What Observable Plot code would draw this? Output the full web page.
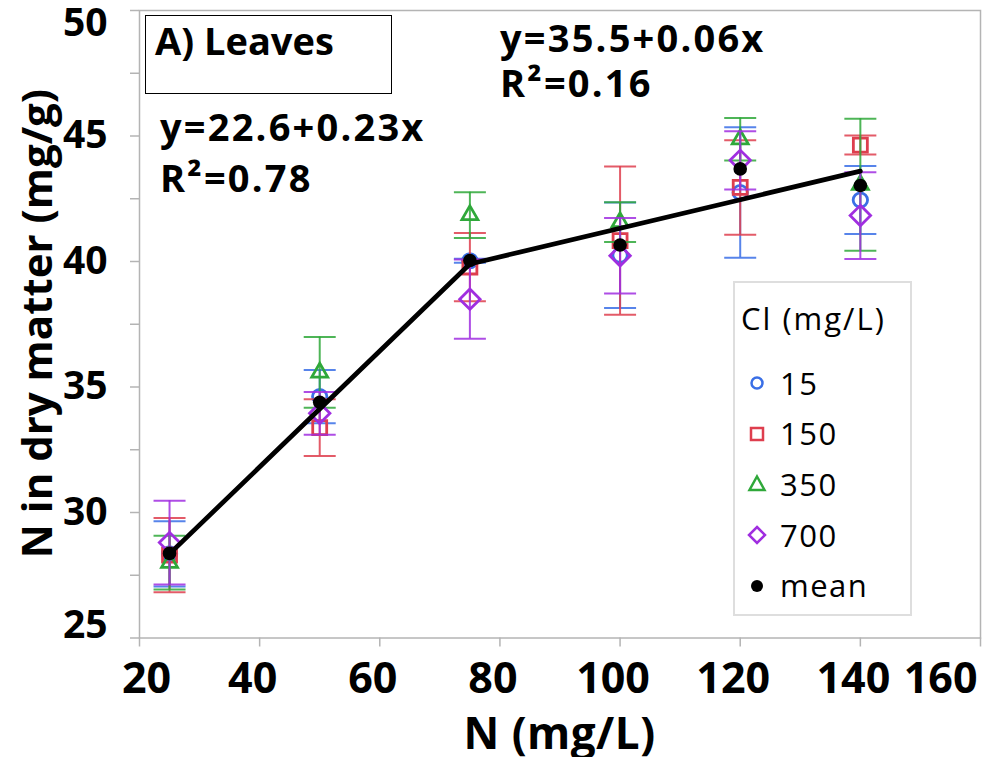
<!DOCTYPE html>
<html><head><meta charset="utf-8">
<script src="https://cdn.jsdelivr.net/npm/d3@7"></script>
<script src="https://cdn.jsdelivr.net/npm/@observablehq/plot@0.6"></script>
<style>
html,body{margin:0;padding:0;background:#fff;}
#wrap{position:relative;width:987px;height:757px;font-family:"Open Sans",sans-serif;color:#000;overflow:hidden;}
#wrap svg{display:block;}
.ov{position:absolute;line-height:1;white-space:nowrap;}
.eq{font-size:38px;font-weight:bold;letter-spacing:2.2px;}
.vt{writing-mode:vertical-rl;transform:rotate(180deg);}
.lg-row{position:absolute;left:0;display:flex;align-items:center;}
</style></head><body>
<div id="wrap"></div>
<script>
// ---- data ----
const nLevels = [25, 50, 75, 100, 120, 140];          // N (mg/L)
const clLevels = ["15", "150", "350", "700"];         // Cl (mg/L)
const n15   = [28.35, 34.62, 40.03, 40.25, 42.75, 42.45];
const err15 = [1.30, 1.06, 0.08, 2.10, 2.60, 1.35];
const n150   = [28.30, 33.38, 39.78, 40.83, 42.95, 44.64];
const err150 = [1.48, 1.13, 1.36, 2.95, 1.88, 0.38];
const n350   = [28.00, 35.58, 41.85, 41.57, 44.87, 43.06];
const err350 = [1.07, 1.41, 0.91, 0.79, 0.85, 2.63];
const n700   = [28.80, 33.95, 38.50, 40.23, 44.03, 41.83];
const err700 = [1.67, 0.85, 1.58, 1.50, 1.16, 1.73];
const nMean  = [28.37, 34.39, 40.04, 40.66, 43.69, 43.03];
const fitN = [25, 75, 140];
const fitY = [28.35, 39.90, 43.60];
const xTicks = [20, 40, 60, 80, 100, 120, 140, 160];
const yTicks = [25, 27.5, 30, 32.5, 35, 37.5, 40, 42.5, 45, 47.5, 50];
const yLabels = [25, 30, 35, 40, 45, 50];
const fit1Text = ["y=22.6+0.23x", "R²=0.78"];
const fit2Text = ["y=35.5+0.06x", "R²=0.16"];

// ---- styles ----
const styles = {
  "15":  {color: "#3a6fe6", symbol: "circle",    r: 7.2},
  "150": {color: "#de3e4e", symbol: "square2",   r: 8.9},
  "350": {color: "#2fa83a", symbol: "triangle2", r: 7.6},
  "700": {color: "#a02ee0", symbol: "diamond2",  r: 9.2}
};
const values = {"15": [n15, err15], "150": [n150, err150], "350": [n350, err350], "700": [n700, err700]};
const gray = "#b4b4b4";
const cap = {draw(ctx) { ctx.moveTo(-16, 0); ctx.lineTo(16, 0); }};

const seriesMarks = clLevels.flatMap(k => {
  const [v, e] = values[k];
  const rows = nLevels.map((n, i) => ({n, v: v[i], e: e[i]}));
  const s = styles[k];
  return [
    Plot.ruleX(rows, {x: "n", y1: d => d.v - d.e, y2: d => d.v + d.e, stroke: s.color, strokeWidth: 2, strokeOpacity: 0.85}),
    Plot.dot(rows, {x: "n", y: d => d.v + d.e, symbol: cap, fill: "none", stroke: s.color, strokeWidth: 2, strokeOpacity: 0.85}),
    Plot.dot(rows, {x: "n", y: d => d.v - d.e, symbol: cap, fill: "none", stroke: s.color, strokeWidth: 2, strokeOpacity: 0.85}),
    Plot.dot(rows, {x: "n", y: "v", symbol: s.symbol, r: s.r, fill: "none", stroke: s.color, strokeWidth: 2.8})
  ];
});

const bold = {fontWeight: "bold", fill: "black"};
const plot = Plot.plot({
  width: 987, height: 757,
  marginLeft: 139, marginRight: 7, marginTop: 10, marginBottom: 119.5,
  x: {domain: [20, 160]},
  y: {domain: [25, 50]},
  style: {fontFamily: "Open Sans", background: "white", color: "black"},
  marks: [
    Plot.frame({stroke: gray, strokeWidth: 1.5}),
    Plot.axisY({ticks: yTicks, tickSize: 9, tickFormat: () => "", color: gray, strokeWidth: 1.5, label: null}),
    Plot.axisX({ticks: xTicks, tickSize: 9, tickFormat: () => "", color: gray, strokeWidth: 1.5, label: null}),
    Plot.text(yLabels.filter(d => d > 25 && d < 50), {y: d => d, text: d => String(d), frameAnchor: "left", textAnchor: "end", dx: -32, fontSize: 39, ...bold}),
    Plot.text(yLabels.filter(d => d === 50), {y: d => d, text: d => String(d), frameAnchor: "left", textAnchor: "end", dx: -32, dy: 13.5, fontSize: 39, ...bold}),
    Plot.text(yLabels.filter(d => d === 25), {y: d => d, text: d => String(d), frameAnchor: "left", textAnchor: "end", dx: -32, dy: -12.5, fontSize: 39, ...bold}),
    Plot.text(xTicks.filter(d => d === 20), {x: d => d, text: d => String(d), frameAnchor: "bottom", lineAnchor: "middle", dx: 7, dy: 41.5, fontSize: 43, ...bold}),
    Plot.text(xTicks.filter(d => d > 20 && d < 160), {x: d => d, text: d => String(d), frameAnchor: "bottom", lineAnchor: "middle", dx: -7, dy: 41.5, fontSize: 43, ...bold}),
    Plot.text(xTicks.filter(d => d === 160), {x: d => d, text: d => String(d), frameAnchor: "bottom", lineAnchor: "middle", textAnchor: "end", dx: -3, dy: 41.5, fontSize: 43, ...bold}),
    ...seriesMarks,
    Plot.line({length: fitN.length}, {x: fitN, y: fitY, stroke: "black", strokeWidth: 4.7, strokeLinejoin: "round", strokeLinecap: "round"}),
    Plot.dot({length: nLevels.length}, {x: nLevels, y: nMean, r: 6.8, fill: "black", stroke: "none"})
  ]
});
const wrap = document.getElementById("wrap");
wrap.appendChild(plot);

function ov(html, css, cls = "ov") {
  const d = document.createElement("div");
  d.className = cls;
  d.style.cssText = css;
  d.innerHTML = html;
  wrap.appendChild(d);
  return d;
}
// axis titles
ov('<span class="vt">N in dry matter (mg/g)</span>', "left:14.7px;top:10px;height:627px;display:flex;align-items:center;font-size:42px;font-weight:bold;");
ov("N (mg/L)", "left:139px;width:841px;text-align:center;top:710px;font-size:44px;font-weight:bold;letter-spacing:0.5px;");
// panel label and equations
ov("", "left:145px;top:15px;width:245px;height:77px;border:1.5px solid #000;");
ov("A) Leaves", "left:155px;top:21.3px;font-size:38px;font-weight:bold;");
ov(fit2Text[0], "left:500px;top:18.3px;", "ov eq");
ov(fit2Text[1], "left:500px;top:63.3px;", "ov eq");
ov(fit1Text[0], "left:160px;top:107.3px;", "ov eq");
ov(fit1Text[1], "left:160px;top:158.3px;", "ov eq");
// legend
const lg = ov("", "left:733px;top:281px;width:175px;height:331px;border:2px solid #dedede;background:#fff;");
const title = document.createElement("div");
title.className = "ov";
title.style.cssText = "left:6px;top:20px;font-size:31px;letter-spacing:2px;";
title.textContent = "Cl (mg/L)";
lg.appendChild(title);
const shapes = {
  "15": s => `<circle cx="10" cy="10" r="5.5" fill="none" stroke="${s.color}" stroke-width="2.5"/>`,
  "150": s => `<rect x="4" y="4" width="12" height="12" fill="none" stroke="${s.color}" stroke-width="2.5"/>`,
  "350": s => `<path d="M10,2.5 L17.5,16 L2.5,16 Z" fill="none" stroke="${s.color}" stroke-width="2.5" stroke-linejoin="miter"/>`,
  "700": s => `<path d="M10,2 L18,10 L10,18 L2,10 Z" fill="none" stroke="${s.color}" stroke-width="2.5"/>`
};
const entries = clLevels.map(k => ({label: k, svg: shapes[k](styles[k])}))
  .concat([{label: "mean", svg: `<circle cx="10" cy="10" r="6" fill="#000"/>`}]);
entries.forEach((e, i) => {
  const row = document.createElement("div");
  row.className = "lg-row";
  row.style.cssText = `top:${80 + i * 50.7}px;height:40px;font-size:31px;line-height:1;letter-spacing:1.5px;`;
  row.innerHTML = `<svg width="20" height="20" style="margin-left:12px;margin-right:13px;display:block">${e.svg}</svg><span>${e.label}</span>`;
  lg.appendChild(row);
});
</script></body></html>
